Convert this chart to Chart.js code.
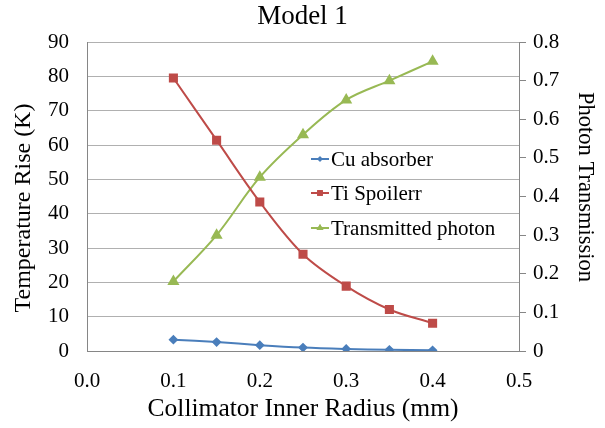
<!DOCTYPE html>
<html><head><meta charset="utf-8">
<script src="https://cdn.jsdelivr.net/npm/chart.js@4/dist/chart.umd.min.js"></script>
<style>html,body{margin:0;padding:0;background:#fff}#wrap{width:605px;height:428px}</style>
</head><body><div id="wrap"><canvas id="c" width="605" height="428"></canvas></div>
<script>
const radius = [0.1, 0.15, 0.2, 0.25, 0.3, 0.35, 0.4];
const cuAbsorber = [3.3, 2.6, 1.7, 1.0, 0.6, 0.35, 0.2];
const tiSpoiler = [79.5, 61.4, 43.4, 28.2, 18.9, 12.1, 8.1];
const transmitted = [0.18, 0.30, 0.45, 0.56, 0.65, 0.70, 0.75];
const seriesNames = ['Cu absorber', 'Ti Spoilerr', 'Transmitted photon'];
const leftTicks = [0, 10, 20, 30, 40, 50, 60, 70, 80, 90];
const rightTicks = [0, 0.1, 0.2, 0.3, 0.4, 0.5, 0.6, 0.7, 0.8];
const xTicks = [0, 0.1, 0.2, 0.3, 0.4, 0.5];
const leftTitle = 'Temperature Rise (K)';
const rightTitle = 'Photon Transmission';

const FONT = "'Liberation Serif', 'Times New Roman', serif";
Chart.defaults.font.family = FONT;
const pts = arr => radius.map((x, i) => ({x: x, y: arr[i]}));

const extrasPlugin = {
  id: 'extras',
  afterDraw(chart) {
    const ctx = chart.ctx, a = chart.chartArea;
    ctx.save();
    ctx.fillStyle = '#000'; ctx.textAlign = 'center'; ctx.textBaseline = 'middle';
    ctx.font = '24px ' + FONT;
    ctx.save(); ctx.translate(24, a.top + 166); ctx.rotate(-Math.PI / 2); ctx.fillText(leftTitle, 0, 0); ctx.restore();
    ctx.font = '22.5px ' + FONT;
    ctx.save(); ctx.translate(585, a.top + 145); ctx.rotate(Math.PI / 2); ctx.fillText(rightTitle, 0, 0); ctx.restore();
    ctx.restore();
  },
  afterDatasetsDraw(chart) {
    const ctx = chart.ctx, a = chart.chartArea;
    const x0 = a.left + 224, rows = [a.top + 117, a.top + 151, a.top + 186];
    ctx.save();
    chart.data.datasets.forEach((ds, i) => {
      const y = rows[i];
      ctx.strokeStyle = ds.borderColor; ctx.lineWidth = 2;
      ctx.beginPath(); ctx.moveTo(x0, y); ctx.lineTo(x0 + 18, y); ctx.stroke();
      ctx.fillStyle = ds.borderColor;
      Chart.helpers.drawPoint(ctx, {pointStyle: ds.pointStyle, radius: ds.pointRadius * 0.8, borderWidth: 0}, x0 + 9, y);
      ctx.fill();
      ctx.fillStyle = '#000'; ctx.font = '21px ' + FONT; ctx.textBaseline = 'middle'; ctx.textAlign = 'left';
      ctx.fillText(seriesNames[i], x0 + 20, y + 1);
    });
    ctx.restore();
  }
};

new Chart(document.getElementById('c'), {
  type: 'line',
  data: {
    datasets: [
      {label: seriesNames[0], data: pts(cuAbsorber), yAxisID: 'y', borderColor: '#4A7EBB', backgroundColor: '#4A7EBB', pointStyle: 'rectRot', pointRadius: 3.5, borderWidth: 2, tension: 0.35},
      {label: seriesNames[1], data: pts(tiSpoiler), yAxisID: 'y', borderColor: '#BE4B48', backgroundColor: '#BE4B48', pointStyle: 'rect', pointRadius: 5, borderWidth: 2, tension: 0.35},
      {label: seriesNames[2], data: pts(transmitted), yAxisID: 'y2', borderColor: '#98B954', backgroundColor: '#98B954', pointStyle: 'triangle', pointRadius: 5, borderWidth: 2, tension: 0.35}
    ]
  },
  options: {
    responsive: false, animation: false,
    layout: {padding: 0},
    plugins: {
      legend: {display: false},
      tooltip: {enabled: false},
      title: {display: true, text: 'Model 1', color: '#000', font: {family: FONT, size: 27, weight: 'normal'}, padding: {top: 1, bottom: 8.6}}
    },
    scales: {
      x: {
        type: 'linear', min: 0, max: 0.5,
        afterBuildTicks: s => { s.ticks = xTicks.map(v => ({value: v})); },
        afterFit: s => { s.height = 77; },
        grid: {display: false, drawTicks: false},
        border: {color: '#868686', width: 1},
        ticks: {color: '#000', padding: 18, font: {family: FONT, size: 21}, callback: v => v.toFixed(1)},
        title: {display: true, text: 'Collimator Inner Radius (mm)', color: '#000', font: {family: FONT, size: 25.5}, padding: {top: 0, bottom: 3}}
      },
      y: {
        position: 'left', min: 0, max: 90,
        afterBuildTicks: s => { s.ticks = leftTicks.map(v => ({value: v})); },
        afterFit: s => { s.width = 87; },
        grid: {color: '#B0B0B0', drawTicks: false},
        border: {color: '#868686', width: 1},
        ticks: {color: '#000', padding: 18, font: {family: FONT, size: 21}},
        title: {display: false}
      },
      y2: {
        position: 'right', min: 0, max: 0.8,
        afterBuildTicks: s => { s.ticks = rightTicks.map(v => ({value: v})); },
        afterFit: s => { s.width = 86; },
        grid: {drawOnChartArea: false, color: '#868686', tickLength: 7},
        border: {color: '#868686', width: 1},
        ticks: {color: '#000', padding: 7, font: {family: FONT, size: 21}, callback: v => v === 0 ? '0' : v.toFixed(1)},
        title: {display: false}
      }
    }
  },
  plugins: [extrasPlugin]
});
</script></body></html>
